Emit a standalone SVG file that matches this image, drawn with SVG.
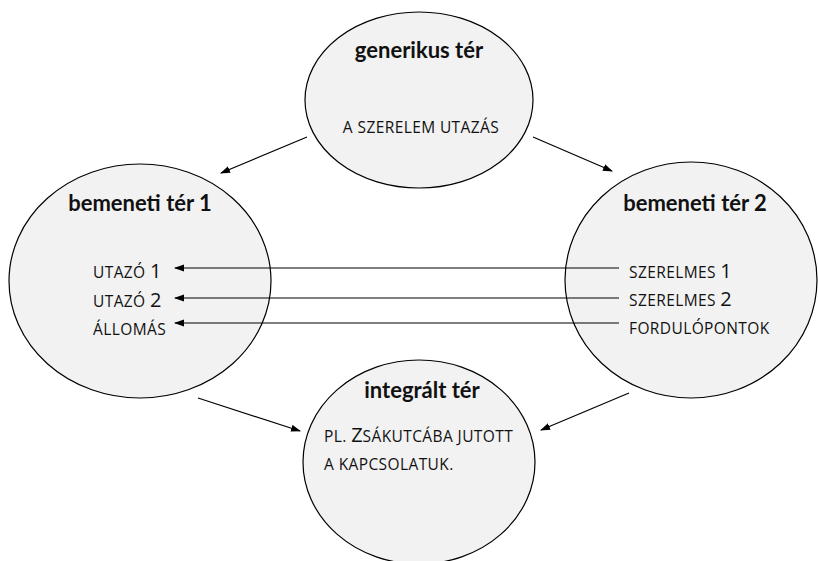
<svg xmlns="http://www.w3.org/2000/svg" width="818" height="561" viewBox="0 0 818 561">
<style>
.node{fill:#f2f2f2;stroke:#000;stroke-width:1.2}
.h{font-family:Lato,"Open Sans","Liberation Sans",sans-serif;font-weight:bold;font-size:22px;fill:#111;text-anchor:middle}
.t{font-family:"Open Sans",Lato,"Liberation Sans",sans-serif;font-size:15.5px;letter-spacing:0.4px;fill:#111}
.big{font-size:20px;letter-spacing:0}
.c{stroke:#000;stroke-width:1.2;fill:none;marker-end:url(#ah)}
</style>
<defs>
<marker id="ah" markerWidth="10" markerHeight="8" refX="9" refY="4" orient="auto" markerUnits="userSpaceOnUse">
<path d="M0,0.5 L10,4 L0,7.5 Z" fill="#000"/>
</marker>
</defs>
<rect width="818" height="561" fill="#fff"/>
<g id="generikus">
<ellipse class="node" cx="419" cy="100" rx="114" ry="88"/>
<text class="h" x="419" y="58">generikus tér</text>
<text class="t" x="421" y="133" text-anchor="middle">A SZERELEM UTAZÁS</text>
</g>
<g id="bemeneti1">
<ellipse class="node" cx="140" cy="281" rx="131" ry="117"/>
<text class="h" x="140" y="211">bemeneti tér 1</text>
<text class="t" x="93" y="278">UTAZÓ <tspan class="big">1</tspan></text>
<text class="t" x="93" y="307">UTAZÓ <tspan class="big">2</tspan></text>
<text class="t" x="93" y="335">ÁLLOMÁS</text>
</g>
<g id="bemeneti2">
<ellipse class="node" cx="691" cy="280" rx="126" ry="118"/>
<text class="h" x="695" y="211">bemeneti tér 2</text>
<text class="t" x="629" y="278">SZERELMES <tspan class="big">1</tspan></text>
<text class="t" x="629" y="306">SZERELMES <tspan class="big">2</tspan></text>
<text class="t" x="629" y="334">FORDULÓPONTOK</text>
</g>
<g id="integralt">
<ellipse class="node" cx="419" cy="462" rx="116" ry="102"/>
<text class="h" x="422" y="398">integrált tér</text>
<text class="t" x="324" y="442">PL. <tspan class="big">Z</tspan>SÁKUTCÁBA JUTOTT</text>
<text class="t" x="324" y="470">A KAPCSOLATUK.</text>
</g>
<g id="connectors">
<line class="c" x1="307" y1="137" x2="221" y2="173"/>
<line class="c" x1="533" y1="137" x2="612" y2="171"/>
<line class="c" x1="619" y1="268" x2="175" y2="268"/>
<line class="c" x1="619" y1="298" x2="175" y2="298"/>
<line class="c" x1="619" y1="323" x2="175" y2="323"/>
<line class="c" x1="198" y1="398" x2="300" y2="431"/>
<line class="c" x1="629" y1="393" x2="541" y2="430"/>
</g>
</svg>
